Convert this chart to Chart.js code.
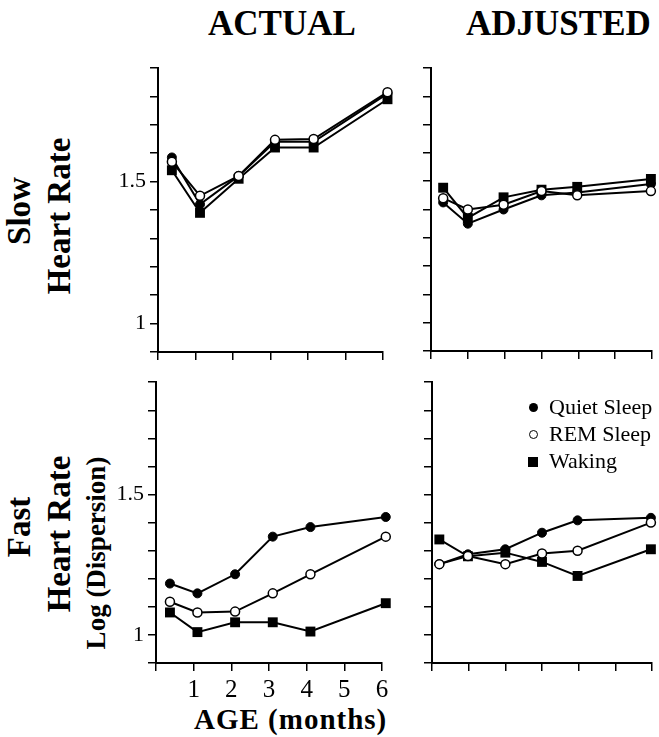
<!DOCTYPE html>
<html>
<head>
<meta charset="utf-8">
<script src="https://cdn.jsdelivr.net/npm/chart.js@4.4.0/dist/chart.umd.min.js"></script>
<style>
  body { margin: 0; background: #fff; width: 659px; height: 737px; position: relative; overflow: hidden; font-family: "Liberation Serif", "Times New Roman", serif; color: #000; }
  canvas { position: absolute; }
  .t { position: absolute; font-weight: bold; white-space: nowrap; line-height: 1; }
  .rot { position: absolute; font-weight: bold; white-space: nowrap; line-height: 1; transform: translate(-50%, -50%) rotate(-90deg); }
  .leg { position: absolute; font-size: 22px; white-space: nowrap; line-height: 1; }
  .mk { position: absolute; box-sizing: border-box; }
</style>
</head>
<body>
<div class="t" style="left:208px; top:6px; font-size:35px;">ACTUAL</div>
<div class="t" style="left:466px; top:6px; font-size:35px;">ADJUSTED</div>

<div class="rot" style="left:19px; top:211px; font-size:33px;">Slow</div>
<div class="rot" style="left:59px; top:216px; font-size:33px;">Heart Rate</div>

<div class="rot" style="left:19px; top:527px; font-size:33px;">Fast</div>
<div class="rot" style="left:59px; top:534px; font-size:33px;">Heart Rate</div>
<div class="rot" style="left:96px; top:553px; font-size:27px;">Log (Dispersion)</div>

<div class="t" style="left:194px; top:705px; font-size:29px; letter-spacing:1px;">AGE (months)</div>

<canvas id="c1" width="310" height="320" style="left:90px; top:50px;"></canvas>
<canvas id="c2" width="259" height="320" style="left:400px; top:50px;"></canvas>
<canvas id="c3" width="310" height="350" style="left:90px; top:365px;"></canvas>
<canvas id="c4" width="259" height="350" style="left:400px; top:365px;"></canvas>

<div class="mk" style="left:529px; top:403px; width:9px; height:9px; border-radius:50%; background:#000;"></div>
<div class="leg" style="left:549px; top:396px;">Quiet Sleep</div>
<div class="mk" style="left:529px; top:430px; width:9px; height:9px; border-radius:50%; border:1.5px solid #000; background:#fff;"></div>
<div class="leg" style="left:549px; top:423px;">REM Sleep</div>
<div class="mk" style="left:528px; top:457px; width:10px; height:10px; background:#000;"></div>
<div class="leg" style="left:549px; top:450px;">Waking</div>

<script>
// ages (months) of each measurement, per panel
var ageSlowActual = [0.37, 1.12, 2.15, 3.12, 4.15, 6.12];
var ageSlowAdjusted = [0.33, 1, 1.97, 3, 3.97, 5.97];
var ageFastActual = [0.37, 1.1, 2.1, 3.1, 4.1, 6.1];
var ageFastAdjusted = [0.2, 0.98, 2, 3, 3.97, 5.97];

// Log (Dispersion) values
var slowActualQuiet = [1.585, 1.42, 1.52, 1.64, 1.64, 1.81];
var slowActualREM = [1.57, 1.45, 1.52, 1.647, 1.65, 1.815];
var slowActualWaking = [1.54, 1.39, 1.51, 1.62, 1.62, 1.79];

var slowAdjQuiet = [1.425, 1.35, 1.40, 1.45, 1.46, 1.49];
var slowAdjREM = [1.44, 1.40, 1.417, 1.465, 1.45, 1.465];
var slowAdjWaking = [1.477, 1.37, 1.443, 1.47, 1.48, 1.508];

var fastActualQuiet = [1.183, 1.148, 1.216, 1.35, 1.384, 1.42];
var fastActualREM = [1.118, 1.08, 1.083, 1.148, 1.216, 1.35];
var fastActualWaking = [1.08, 1.01, 1.045, 1.045, 1.012, 1.113];

var fastAdjQuiet = [1.252, 1.287, 1.305, 1.364, 1.408, 1.417];
var fastAdjREM = [1.252, 1.281, 1.252, 1.29, 1.30, 1.40];
var fastAdjWaking = [1.34, 1.28, 1.293, 1.26, 1.21, 1.305];

var yLabels = [1, 1.5];
var xLabels = [1, 2, 3, 4, 5, 6];

var serif = '"Liberation Serif", "Times New Roman", serif';

function pts(ages, vals) {
    var out = [];
    for (let i = 0; i < vals.length; i++) {
        out.push({x: ages[i], y: vals[i]});
    }
    return out;
}

function makeChart(id, ages, quiet, rem, waking, o) {
    var ctx = document.getElementById(id).getContext('2d');
    return new Chart(ctx, {
        type: 'scatter',
        data: {
            datasets: [{
                label: 'REM Sleep',
                data: pts(ages, rem),
                showLine: true,
                borderColor: '#000',
                borderWidth: 2,
                pointStyle: 'circle',
                pointRadius: 4.5,
                pointBorderWidth: 1.5,
                pointBackgroundColor: '#fff',
                pointBorderColor: '#000',
                clip: false
            }, {
                label: 'Quiet Sleep',
                data: pts(ages, quiet),
                showLine: true,
                borderColor: '#000',
                borderWidth: 2,
                pointStyle: 'circle',
                pointRadius: 4.5,
                pointBorderWidth: 1,
                pointBackgroundColor: '#000',
                pointBorderColor: '#000',
                clip: false
            }, {
                label: 'Waking',
                data: pts(ages, waking),
                showLine: true,
                borderColor: '#000',
                borderWidth: 2,
                pointStyle: 'rect',
                pointRadius: 7,
                pointBorderWidth: 0,
                pointBackgroundColor: '#000',
                pointBorderColor: '#000',
                clip: false
            }]
        },
        options: {
            responsive: false,
            animation: false,
            layout: { padding: { top: o.top, right: o.right, left: 0, bottom: 0 } },
            plugins: { legend: { display: false }, tooltip: { enabled: false } },
            scales: {
                x: {
                    type: 'linear',
                    min: 0, max: 6,
                    afterFit: function(s) { s.height = o.xh; },
                    border: { color: '#000', width: 2 },
                    grid: { drawOnChartArea: false, drawTicks: true, tickLength: 8, color: '#000', lineWidth: 1.5 },
                    ticks: {
                        stepSize: 1,
                        autoSkip: false,
                        padding: 4,
                        color: '#000',
                        font: { family: serif, size: 25 },
                        display: o.xTicks,
                        callback: function(v) { return xLabels.indexOf(v) >= 0 ? String(v) : ''; }
                    }
                },
                y: {
                    type: 'linear',
                    min: 0.9, max: 1.9,
                    afterFit: function(s) { s.width = o.yw; },
                    border: { color: '#000', width: 2 },
                    grid: { drawOnChartArea: false, drawTicks: true, tickLength: 8, color: '#000', lineWidth: 1.5 },
                    ticks: {
                        stepSize: 0.1,
                        autoSkip: false,
                        padding: 4,
                        color: '#000',
                        font: { family: serif, size: 22 },
                        callback: function(v) {
                            if (!o.yTicks) return '';
                            for (let i = 0; i < yLabels.length; i++) {
                                if (Math.abs(v - yLabels[i]) < 1e-6) return String(yLabels[i]);
                            }
                            return '';
                        }
                    }
                }
            }
        }
    });
}

makeChart('c1', ageSlowActual, slowActualQuiet, slowActualREM, slowActualWaking,
    { top: 18, right: 17, yw: 68, xh: 18, xTicks: false, yTicks: true });
makeChart('c2', ageSlowAdjusted, slowAdjQuiet, slowAdjREM, slowAdjWaking,
    { top: 18, right: 3, yw: 31, xh: 19, xTicks: false, yTicks: false });
makeChart('c3', ageFastActual, fastActualQuiet, fastActualREM, fastActualWaking,
    { top: 16, right: 18, yw: 66, xh: 52, xTicks: true, yTicks: true });
makeChart('c4', ageFastAdjusted, fastAdjQuiet, fastAdjREM, fastAdjWaking,
    { top: 16, right: 3, yw: 32, xh: 52, xTicks: false, yTicks: false });
</script>
</body>
</html>
